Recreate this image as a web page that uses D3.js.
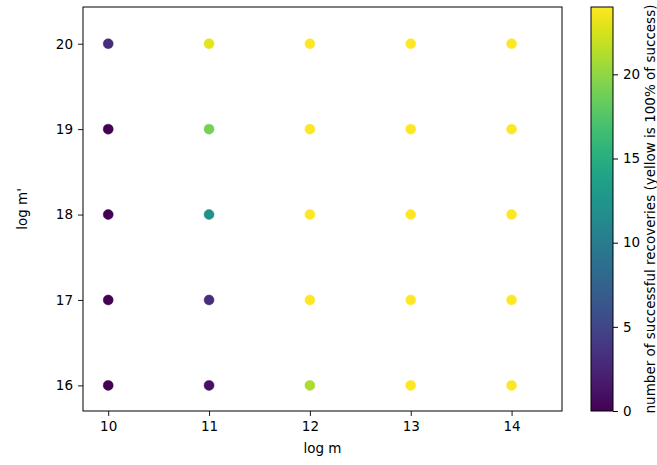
<!DOCTYPE html>
<html>
<head>
<meta charset="utf-8">
<script src="https://cdn.jsdelivr.net/npm/d3@7"></script>
<style>
  body { margin: 0; background: #fff; }
  text { font-family: "DejaVu Sans", sans-serif; fill: #000; }
</style>
</head>
<body>
<div id="chart"></div>
<script>
// grid of log m / log m' values and number of successful recoveries
var logM = [10, 11, 12, 13, 14];
var logMPrime = [16, 17, 18, 19, 20];
// rows follow logM, columns follow logMPrime (16..20)
var recoveries = [
  [0, 0, 0, 0, 3],
  [1, 3, 12, 19, 23],
  [21, 24, 24, 24, 24],
  [24, 24, 24, 24, 24],
  [24, 24, 24, 24, 24]
];
var xTicks = [10, 11, 12, 13, 14];
var yTicks = [16, 17, 18, 19, 20];
var cbTicks = [0, 5, 10, 15, 20];

var svgWidth = 657, svgHeight = 465;
var margin = { top: 7, left: 83 };
var width = 479, height = 404;

var points = [];
logM.forEach(function(m, i) {
  logMPrime.forEach(function(mp, j) {
    points.push({ m: m, mp: mp, n: recoveries[i][j] });
  });
});

var svg = d3.select("#chart").append("svg")
  .attr("width", svgWidth)
  .attr("height", svgHeight);

var chartGroup = svg.append("g")
  .attr("transform", `translate(${margin.left}, ${margin.top})`);

var xScale = d3.scaleLinear().domain([9.75, 14.5]).range([0, width]);
var yScale = d3.scaleLinear().domain([15.7, 20.43]).range([height, 0]);
var color = d3.scaleSequential(d3.interpolateViridis).domain([0, 24]);

// points
chartGroup.selectAll("circle")
  .data(points)
  .enter()
  .append("circle")
  .attr("cx", d => xScale(d.m))
  .attr("cy", d => yScale(d.mp))
  .attr("r", 5)
  .attr("fill", d => color(d.n))
  .attr("stroke", d => color(d.n))
  .attr("stroke-opacity", 0.6)
  .attr("stroke-width", 0.8);

// axes
var fmt = d3.format("d");
var bottomAxis = d3.axisBottom(xScale).tickValues(xTicks).tickFormat(fmt).tickSize(5).tickPadding(5);
var leftAxis = d3.axisLeft(yScale).tickValues(yTicks).tickFormat(fmt).tickSize(5).tickPadding(5);

chartGroup.append("g")
  .attr("transform", `translate(0, ${height})`)
  .call(bottomAxis)
  .call(g => g.select(".domain").remove());

chartGroup.append("g")
  .call(leftAxis)
  .call(g => g.select(".domain").remove());

chartGroup.selectAll(".tick text").style("font-size", "13.5px").style("font-family", "DejaVu Sans");
chartGroup.selectAll(".tick line").attr("stroke", "#000").attr("stroke-width", 0.9);

chartGroup.append("rect")
  .attr("width", width)
  .attr("height", height)
  .attr("fill", "none")
  .attr("stroke", "#000")
  .attr("stroke-width", 1);

// axis labels
chartGroup.append("text")
  .attr("x", width / 2)
  .attr("y", height + 42)
  .attr("text-anchor", "middle")
  .style("font-size", "13.5px")
  .text("log m");

chartGroup.append("text")
  .attr("transform", `translate(${-56}, ${height / 2}) rotate(-90)`)
  .attr("text-anchor", "middle")
  .style("font-size", "13.5px")
  .text("log m'");

// colorbar
var cbX = 591, cbW = 22;
var cbScale = d3.scaleLinear().domain([0, 24]).range([margin.top + height, margin.top]);

var defs = svg.append("defs");
var grad = defs.append("linearGradient")
  .attr("id", "viridis")
  .attr("x1", 0).attr("y1", 1).attr("x2", 0).attr("y2", 0);
d3.range(0, 1.0001, 0.05).forEach(function(t) {
  grad.append("stop")
    .attr("offset", t)
    .attr("stop-color", d3.interpolateViridis(t));
});

svg.append("rect")
  .attr("x", cbX)
  .attr("y", margin.top)
  .attr("width", cbW)
  .attr("height", height)
  .attr("fill", "url(#viridis)")
  .attr("stroke", "#000")
  .attr("stroke-width", 1);

var cbAxis = d3.axisRight(cbScale).tickValues(cbTicks).tickFormat(fmt).tickSize(5).tickPadding(5);
svg.append("g")
  .attr("transform", `translate(${cbX + cbW}, 0)`)
  .call(cbAxis)
  .call(g => g.select(".domain").remove())
  .call(g => g.selectAll(".tick text").style("font-size", "13.5px").style("font-family", "DejaVu Sans"));

svg.append("text")
  .attr("transform", `translate(${655}, ${margin.top + height / 2}) rotate(-90)`)
  .attr("text-anchor", "middle")
  .style("font-size", "13.5px")
  .text("number of successful recoveries (yellow is 100% of success)");
</script>
</body>
</html>
